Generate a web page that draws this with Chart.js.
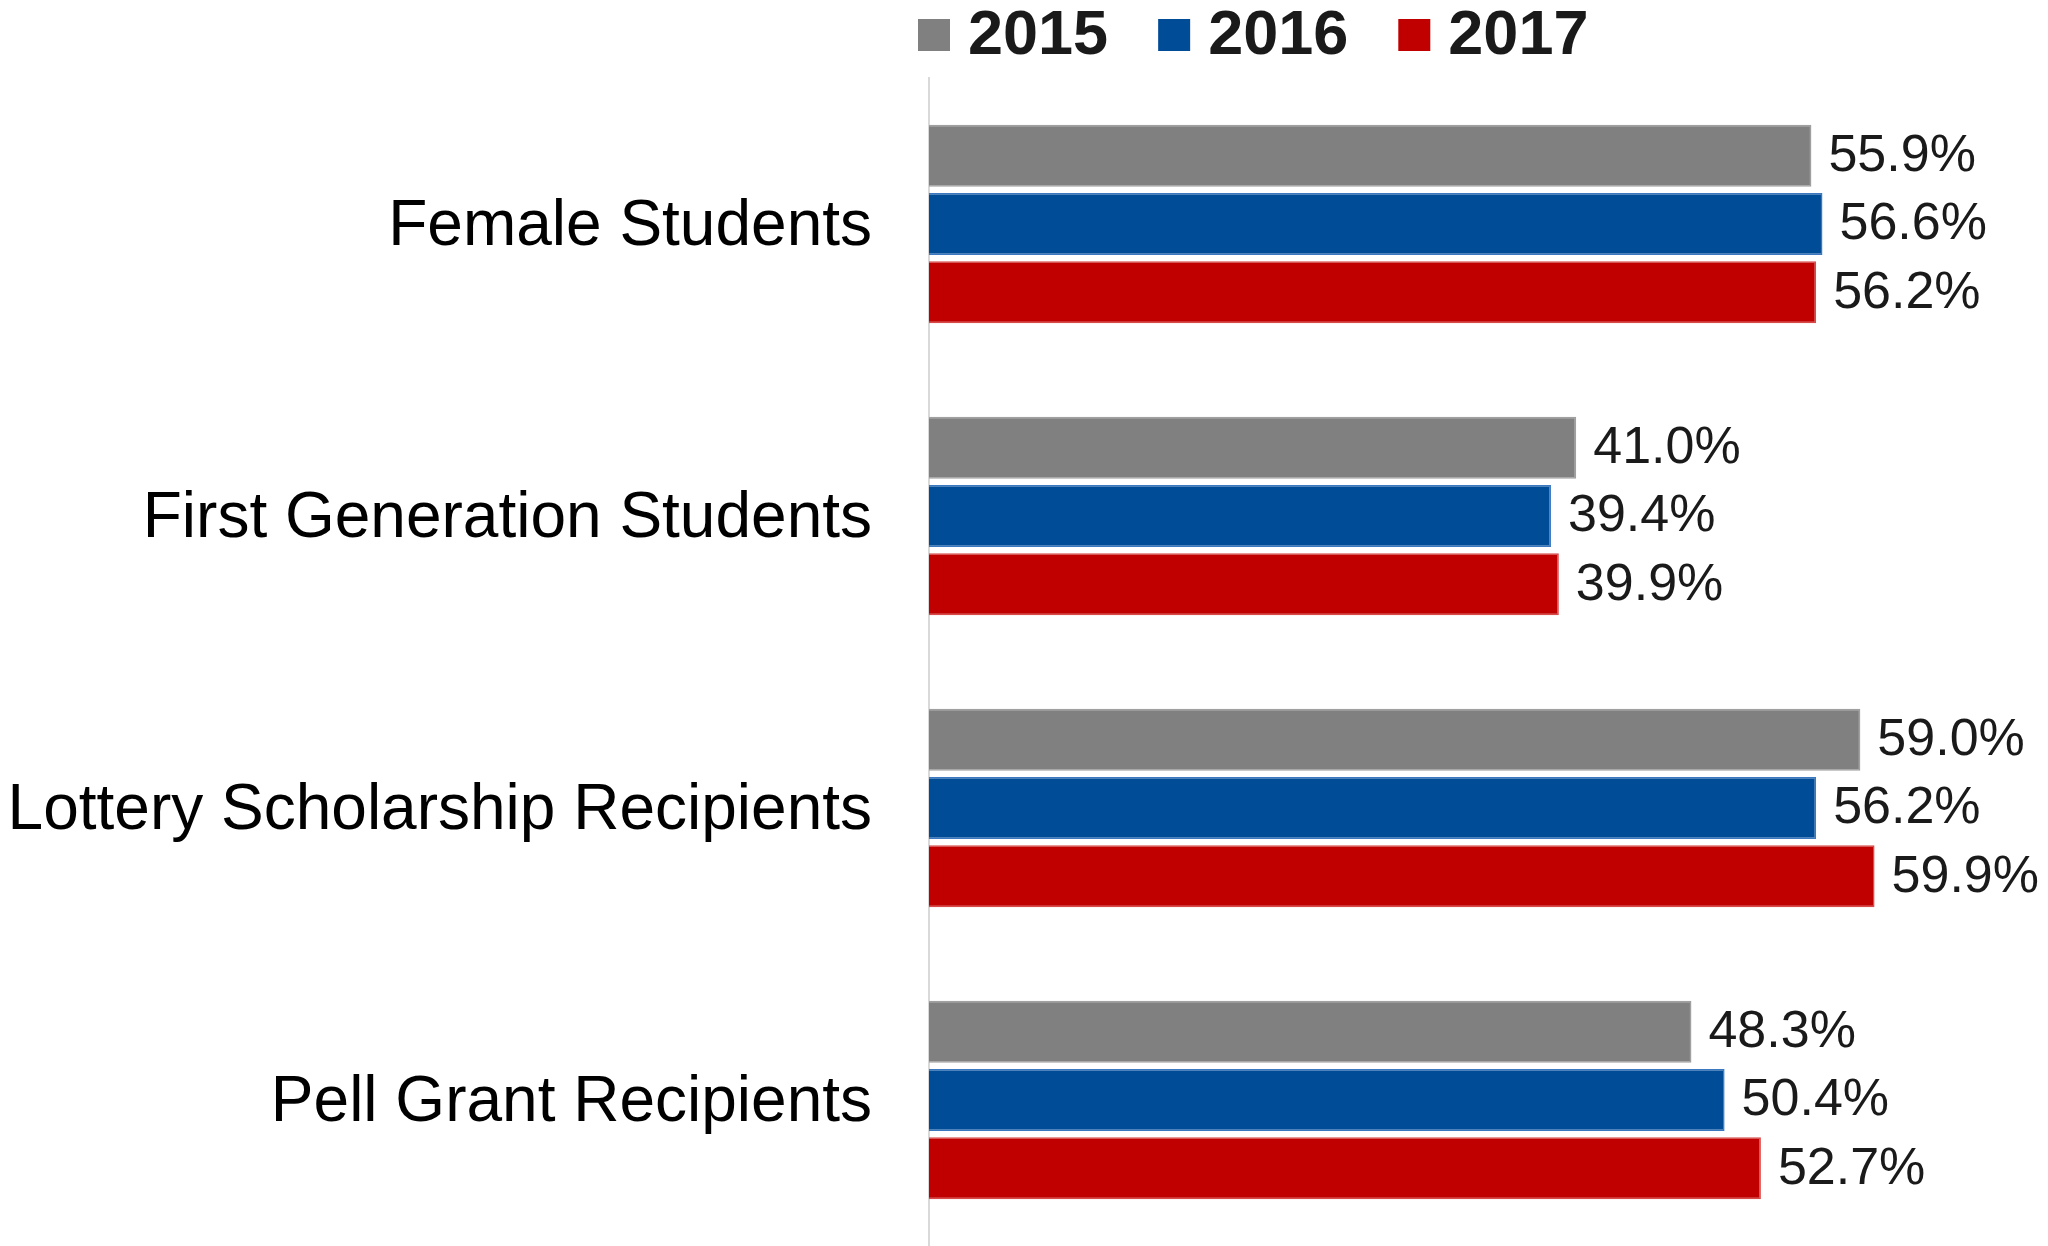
<!DOCTYPE html>
<html><head><meta charset="utf-8">
<style>html,body{margin:0;padding:0;background:#fff;overflow:hidden;} canvas{display:block;}</style>
<script src="https://cdn.jsdelivr.net/npm/chart.js@4/dist/chart.umd.min.js"></script>
</head><body><canvas id="c" width="2048" height="1246" style="width:2048px;height:1246px"></canvas>
<script>
const categories = ['Female Students', 'First Generation Students', 'Lottery Scholarship Recipients', 'Pell Grant Recipients'];
const seriesNames = ['2015', '2016', '2017'];
const values2015 = [55.9, 41.0, 59.0, 48.3];
const values2016 = [56.6, 39.4, 56.2, 50.4];
const values2017 = [56.2, 39.9, 59.9, 52.7];
const fillColors = ['#808080', '#004C97', '#C00000'];
const edgeColors = ['#a0a0a0', '#3b78c0', '#d84a4a'];

const FONT = "'Liberation Sans', Arial, sans-serif";
const seriesValues = [values2015, values2016, values2017];

const valueLabels = {
  id: 'valueLabels',
  afterDatasetsDraw(chart) {
    const ctx = chart.ctx;
    ctx.save();
    ctx.font = '52px ' + FONT;
    ctx.fillStyle = '#1a1a1a';
    ctx.textAlign = 'left';
    ctx.textBaseline = 'middle';
    chart.data.datasets.forEach((ds, i) => {
      chart.getDatasetMeta(i).data.forEach((bar, j) => {
        ctx.fillText(ds.data[j].toFixed(1) + '%', bar.x + 17, bar.y + 1);
      });
    });
    ctx.restore();
  }
};

const topLegend = {
  id: 'topLegend',
  afterDraw(chart) {
    const ctx = chart.ctx;
    ctx.save();
    ctx.font = 'bold 63px ' + FONT;
    ctx.textBaseline = 'middle';
    ctx.textAlign = 'left';
    let x = 918;
    const cy = 35;
    chart.data.datasets.forEach((ds) => {
      ctx.fillStyle = ds.backgroundColor;
      ctx.fillRect(x, cy - 16, 32, 32);
      x += 32 + 18;
      ctx.fillStyle = '#1a1a1a';
      ctx.fillText(ds.label, x, cy + 2);
      x += ctx.measureText(ds.label).width + 50;
    });
    ctx.restore();
  }
};

new Chart(document.getElementById('c'), {
  type: 'bar',
  data: {
    labels: categories,
    datasets: seriesNames.map((name, i) => ({
      label: name,
      data: seriesValues[i],
      backgroundColor: fillColors[i],
      borderColor: edgeColors[i],
      borderWidth: 1.5,
      categoryPercentage: 0.702,
      barPercentage: 0.908
    }))
  },
  options: {
    indexAxis: 'y',
    responsive: false,
    maintainAspectRatio: false,
    devicePixelRatio: 1,
    animation: false,
    layout: { padding: { top: 78, right: 14, bottom: 0, left: 0 } },
    plugins: { legend: { display: false }, tooltip: { enabled: false } },
    scales: {
      x: { display: false, min: 0, max: 70 },
      y: {
        afterFit(scale) { scale.width = 929; scale.paddingTop = 0; scale.paddingBottom = 0; },
        grid: { display: false, drawTicks: false },
        border: { display: true, color: '#d9d9d9', width: 2 },
        ticks: { color: '#000', font: { family: FONT, size: 64 }, padding: 57, labelOffset: 3 }
      }
    }
  },
  plugins: [valueLabels, topLegend]
});
</script>
</body></html>
